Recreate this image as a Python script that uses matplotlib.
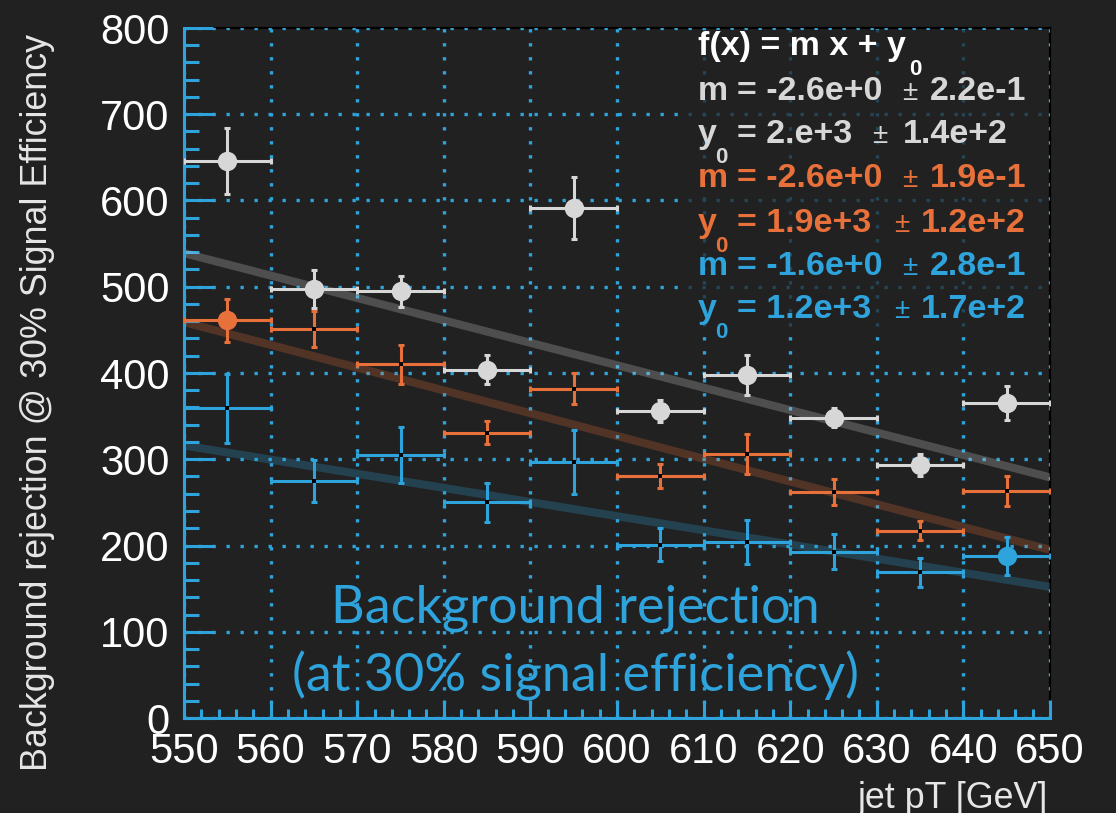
import matplotlib
matplotlib.use("Agg")
import matplotlib.pyplot as plt
from matplotlib.patches import Rectangle
from matplotlib.ticker import MultipleLocator
import numpy as np

# ---------------------------------------------------------------- data
bin_centers = [555, 565, 575, 585, 595, 605, 615, 625, 635, 645]
bin_half_width = 5

gray_values = [646, 497, 495, 404, 591, 356, 398, 348, 293, 365]
gray_errors = [38, 22, 18, 17, 36, 13, 23, 11, 13, 20]

orange_values = [461, 451, 410, 331, 382, 281, 306, 262, 217, 263]
orange_errors = [25, 21, 23, 13, 18, 14, 23, 15, 11, 17]

blue_values = [359, 275, 305, 250, 297, 201, 204, 193, 169, 188]
blue_errors = [40, 24, 32, 23, 37, 19, 25, 20, 17, 22]

# straight-line fits f(x) = m x + y0 for each series
fit_slopes = [-2.6, -2.64, -1.64]
fit_intercepts = [1969, 1911, 1218]
fit_range = [550, 650]

# fit results as printed in the stats box: (m, dm, y0, dy0)
fit_texts = [
    ("-2.6e+0", "2.2e-1", "2.e+3", "1.4e+2"),
    ("-2.6e+0", "1.9e-1", "1.9e+3", "1.2e+2"),
    ("-1.6e+0", "2.8e-1", "1.2e+3", "1.7e+2"),
]

x_ticks = [550, 560, 570, 580, 590, 600, 610, 620, 630, 640, 650]
y_ticks = [0, 100, 200, 300, 400, 500, 600, 700, 800]

# ---------------------------------------------------------------- style
W, H = 1116, 813
BG = "#212121"
BLUE = "#2ea3dc"
ORANGE = "#e8703a"
GRAY = "#d7d7d7"
WHITE = "#ffffff"
SANS = ["Liberation Sans", "DejaVu Sans"]

plt.rcParams["font.family"] = SANS

fig = plt.figure(figsize=(W / 100, H / 100), dpi=100, facecolor=BG)


def fpos(x, y):
    """pixel position (from the top-left corner) -> figure fraction"""
    return x / W, 1 - y / H


ax = fig.add_axes([184 / W, (H - 718) / H, 866 / W, 690 / H])
ax.set_facecolor(BG)
ax.set_xlim(x_ticks[0], x_ticks[-1])
ax.set_ylim(y_ticks[0], y_ticks[-1])
ax.set_xticks(x_ticks)
ax.set_yticks(y_ticks)
ax.xaxis.set_minor_locator(MultipleLocator(2))
ax.yaxis.set_minor_locator(MultipleLocator(20))

# frame: blue axes on the left/bottom, dark edges on top/right
for side in ("left", "bottom"):
    ax.spines[side].set_color(BLUE)
    ax.spines[side].set_linewidth(2.2)
for side in ("top", "right"):
    ax.spines[side].set_color("black")
    ax.spines[side].set_linewidth(1.6)
    ax.spines[side].set_zorder(0.3)

ax.grid(True, which="major", color=BLUE, linewidth=2.4,
        linestyle=(0, (1, 3.2)), zorder=0.5)
ax.set_axisbelow(True)

ax.tick_params(axis="both", which="both", direction="in", color=BLUE,
               width=2.2, top=False, right=False)
ax.tick_params(axis="y", which="major", length=21, labelsize=30,
               labelcolor=WHITE, pad=10.5)
ax.tick_params(axis="y", which="minor", length=11)
ax.tick_params(axis="x", which="major", length=13, labelsize=30,
               labelcolor=WHITE, pad=10)
ax.tick_params(axis="x", which="minor", length=6.5)

# translucent panel behind the fit statistics (dims the grid there)
ax.add_patch(Rectangle(fpos(688, 336), (1047 - 688) / W, (336 - 30) / H,
                       transform=fig.transFigure, facecolor=BG, alpha=0.72,
                       edgecolor="none", zorder=1))

# fit lines (semi-transparent, beneath the points)
xs = np.array(fit_range, dtype=float)
for m, y0, c in zip(fit_slopes, fit_intercepts, [GRAY, ORANGE, BLUE]):
    ax.plot(xs, m * xs + y0, color=c, alpha=0.25, linewidth=5.8,
            solid_capstyle="butt", zorder=2)

# data points with error bars
series = [
    (gray_values, gray_errors, GRAY, list(range(len(bin_centers)))),
    (orange_values, orange_errors, ORANGE, [0]),
    (blue_values, blue_errors, BLUE, [len(bin_centers) - 1]),
]
x = np.array(bin_centers, dtype=float)
for vals, errs, c, big in series:
    v = np.array(vals, dtype=float)
    ax.errorbar(x, v, xerr=bin_half_width, yerr=errs, fmt="none",
                ecolor=c, elinewidth=2.2, capsize=2.5, capthick=2.2,
                zorder=3)
    small = [i for i in range(len(x)) if i not in big]
    if small:
        ax.plot(x[small], v[small], "s", ms=2.2, color="black", mew=0,
                zorder=4)
    ax.plot(x[big], v[big], "o", ms=14, color=c, mew=0, zorder=4)

# axis titles
fig.text(*fpos(38, 402), "Background rejection @ 30% Signal Efficiency",
         rotation=90, ha="center", va="center", fontsize=25.8,
         color="#e6e6e6")
fig.text(*fpos(1048, 808), "jet pT [GeV]", ha="right", va="baseline",
         fontsize=25.8, color="#e6e6e6")

# fit statistics box
BOLD = dict(fontsize=24.5, fontweight="bold", va="baseline")
SUB = dict(fontsize=16, fontweight="bold", va="baseline")
PM = dict(fontsize=20, va="baseline", ha="center")

fig.text(*fpos(698, 55), "f(x) = m x + y", color=WHITE, **BOLD)
fig.text(*fpos(909, 75), "0", color=WHITE, **SUB)

row_baselines = [(100, 143), (187, 232), (275, 318)]
for (m_txt, dm_txt, y_txt, dy_txt), (bm, by), c in zip(
        fit_texts, row_baselines, [GRAY, ORANGE, BLUE]):
    fig.text(*fpos(698, bm), "m", color=c, **BOLD)
    fig.text(*fpos(737, bm), "= " + m_txt, color=c, **BOLD)
    fig.text(*fpos(910, bm), "\u00b1", color=c, **PM)
    fig.text(*fpos(930, bm), dm_txt, color=c, **BOLD)

    fig.text(*fpos(698, by), "y", color=c, **BOLD)
    fig.text(*fpos(715, by + 20), "0", color=c, **SUB)
    fig.text(*fpos(737, by), "= " + y_txt, color=c, **BOLD)
    pm_x, err_x = (880, 903) if len(y_txt) == 5 else (902, 921)
    fig.text(*fpos(pm_x, by), "\u00b1", color=c, **PM)
    fig.text(*fpos(err_x, by), dy_txt, color=c, **BOLD)

# headline inside the plot
HEAD = dict(fontsize=37.5, family=["Lato", "DejaVu Sans"], color=BLUE,
            ha="center", va="baseline")
fig.text(*fpos(575, 623), "Background rejection", **HEAD)
fig.text(*fpos(575, 691), "(at 30% signal efficiency)", **HEAD)

fig.savefig("out.png", dpi=100, facecolor=BG)
